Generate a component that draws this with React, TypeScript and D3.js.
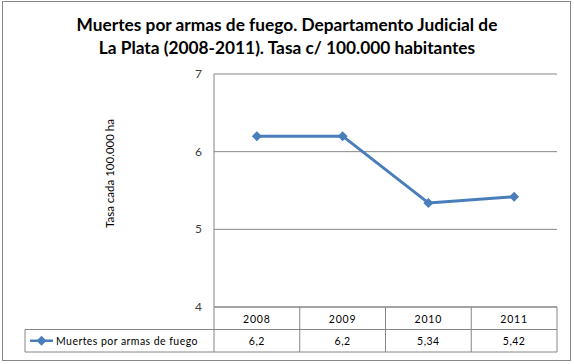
import React from "react";
import * as d3 from "d3";

const years = ["2008", "2009", "2010", "2011"];
const tasa = [6.2, 6.2, 5.34, 5.42];
const tasaLabels = ["6,2", "6,2", "5,34", "5,42"];
const yTicks = [4, 5, 6, 7];
const seriesName = "Muertes por armas de fuego";
const titleLines = [
  "Muertes por armas de fuego. Departamento Judicial de",
  "La Plata (2008-2011). Tasa c/ 100.000 habitantes",
];
const yTitle = "Tasa cada 100.000 ha";

const W = 574;
const H = 364;
const plot = { left: 214, right: 557, top: 74, bottom: 307 };
const tableLeft = 25;
const rowH = 22.5;
const blue = "#4A7EBB";
const grid = "#868686";
const font = "Lato, 'Open Sans', sans-serif";

function App() {
  const x = d3.scaleBand<string>().domain(years).range([plot.left, plot.right]).padding(0);
  const y = d3.scaleLinear().domain([4, 7]).range([plot.bottom, plot.top]);
  const cx = (yr: string) => (x(yr) as number) + x.bandwidth() / 2;

  const line = d3
    .line<number>()
    .x((_, i) => cx(years[i]))
    .y((d) => y(d));

  // Excel-style diamond: a square turned 45 degrees
  const diamond = d3.symbol().type(d3.symbolSquare).size(50)();

  const row1Top = plot.bottom;
  const row2Top = plot.bottom + rowH;
  const row2Bottom = row2Top + rowH;

  return (
    <svg
      width={W}
      height={H}
      style={{ position: "absolute", left: 0, top: 0, background: "#fff" }}
      fontFamily={font}
    >
      <rect x={2.5} y={1.5} width={W - 6} height={H - 5} fill="#fff" stroke="#878787" />

      {titleLines.map((t, i) => (
        <text
          key={i}
          x={W / 2}
          y={31 + i * 23}
          textAnchor="middle"
          fontSize={17.3}
          fontWeight="bold"
          fill="#000"
        >
          {t}
        </text>
      ))}

      {/* gridlines */}
      {yTicks.map((t) => (
        <line key={t} x1={plot.left} x2={plot.right} y1={y(t)} y2={y(t)} stroke={grid} strokeWidth={1} />
      ))}
      <line x1={plot.left} x2={plot.left} y1={plot.top} y2={row2Bottom} stroke={grid} />

      {/* y tick labels */}
      {yTicks.map((t) => (
        <text key={t} x={202} y={y(t) + 4} textAnchor="end" fontSize={12} fill="#404040">
          {t}
        </text>
      ))}

      <text
        transform={`translate(114, ${(plot.top + plot.bottom) / 2 - 17}) rotate(-90)`}
        textAnchor="middle"
        fontSize={11.5}
        fill="#000"
      >
        {yTitle}
      </text>

      {/* data table */}
      <line x1={plot.left} x2={plot.right} y1={row1Top} y2={row1Top} stroke={grid} />
      <line x1={tableLeft} x2={plot.right} y1={row2Top} y2={row2Top} stroke={grid} />
      <line x1={tableLeft} x2={plot.right} y1={row2Bottom} y2={row2Bottom} stroke={grid} />
      <line x1={tableLeft} x2={tableLeft} y1={row2Top} y2={row2Bottom} stroke={grid} />
      {years.map((yr) => (
        <line
          key={yr}
          x1={(x(yr) as number) + x.bandwidth()}
          x2={(x(yr) as number) + x.bandwidth()}
          y1={row1Top}
          y2={row2Bottom}
          stroke={grid}
        />
      ))}
      {years.map((yr, i) => (
        <g key={yr}>
          <text x={cx(yr)} y={row1Top + 15.5} textAnchor="middle" fontSize={10.5} letterSpacing={0.8} fill="#000">
            {yr}
          </text>
          <text x={cx(yr)} y={row2Top + 15.5} textAnchor="middle" fontSize={10.5} letterSpacing={0.5} fill="#000">
            {tasaLabels[i]}
          </text>
        </g>
      ))}

      {/* legend key in table */}
      <line x1={30} x2={53} y1={row2Top + rowH / 2} y2={row2Top + rowH / 2} stroke={blue} strokeWidth={2.5} />
      <path d={diamond} transform={`translate(41.5, ${row2Top + rowH / 2}) rotate(45)`} fill={blue} />
      <text x={56} y={row2Top + 15.5} fontSize={10.5} letterSpacing={0.45} fill="#000">
        {seriesName}
      </text>

      {/* series */}
      <path d={line(tasa) as string} fill="none" stroke={blue} strokeWidth={3} strokeLinejoin="round" />
      {tasa.map((v, i) => (
        <path
          key={i}
          d={diamond}
          transform={`translate(${cx(years[i])}, ${y(v)}) rotate(45)`}
          fill={blue}
        />
      ))}
    </svg>
  );
}

export default App;
